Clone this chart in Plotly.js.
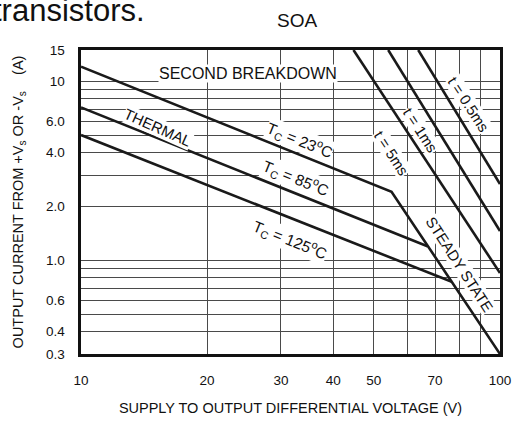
<!DOCTYPE html>
<html>
<head>
<meta charset="utf-8">
<script src="https://cdn.plot.ly/plotly-3.0.1.min.js"></script>
<style>html,body{margin:0;padding:0;background:#fff;}#chart{width:512px;height:422px;}</style>
</head>
<body>
<div id="chart"></div>
<script>
// Supply-to-output differential voltage (V) and output current (A)
const tc23V = [10, 55.1, 100];
const tc23I = [12.1, 2.42, 0.3];
const tc85V = [10, 67.1];
const tc85I = [7.17, 1.2];
const tc125V = [10, 76.7];
const tc125I = [5.02, 0.76];
const t5msV = [44.7, 100];
const t5msI = [15, 0.85];
const t1msV = [54.1, 100];
const t1msI = [15, 1.46];
const t05msV = [63.8, 100];
const t05msI = [15, 2.67];

const xTickVals = [10, 20, 30, 40, 50, 70, 100];
const xTickText = ['10', '20', '30', '40', '50', '70', '100'];
const xMinorVals = [60, 80, 90];
const yTickVals = [0.3, 0.4, 0.6, 1, 2, 4, 6, 10, 15];
const yTickText = ['0.3', '0.4', '0.6', '1.0', '2.0', '4.0', '6.0', '10', '15'];
const yMinorVals = [0.5, 0.7, 0.8, 0.9, 3, 5, 7, 8, 9];

const lineStyle = {color: '#1a1a1a', width: 2.6};
const series = [[tc23V, tc23I], [tc85V, tc85I], [tc125V, tc125I], [t5msV, t5msI], [t1msV, t1msI], [t05msV, t05msI]];
const traces = series.map(s => ({x: s[0], y: s[1], mode: 'lines', line: lineStyle, hoverinfo: 'skip', cliponaxis: true}));

const F = 'Arial, "Liberation Sans", sans-serif';
function lab(text, px, py, ang, size) {
  return {text: text, xref: 'paper', yref: 'paper', x: (px - 81) / 419, y: (354 - py) / 304,
    showarrow: false, textangle: ang, font: {family: F, size: size || 15, color: '#111'},
    bgcolor: '#fff', borderpad: 0, xanchor: 'center', yanchor: 'middle'};
}

const layout = {
  width: 512, height: 422,
  margin: {l: 81, r: 12, t: 50, b: 68},
  paper_bgcolor: '#fff', plot_bgcolor: '#fff',
  showlegend: false,
  font: {family: F, size: 13, color: '#111'},
  xaxis: {
    type: 'log', range: [1, 2],
    tickmode: 'array', tickvals: xTickVals, ticktext: xTickText,
    showgrid: true, gridcolor: '#4a4a4a', gridwidth: 1,
    minor: {tickmode: 'array', tickvals: xMinorVals, showgrid: true, gridcolor: '#4a4a4a', gridwidth: 1, ticks: ''},
    showline: true, mirror: true, linecolor: '#111', linewidth: 2.6,
    ticks: '', ticklabelstandoff: 12, zeroline: false,
    tickfont: {family: F, size: 13.5, color: '#111'},
    title: {text: 'SUPPLY TO OUTPUT DIFFERENTIAL VOLTAGE (V)', font: {family: F, size: 14.5, color: '#111'}, standoff: 16}
  },
  yaxis: {
    type: 'log', range: [Math.log10(0.3), Math.log10(15)],
    tickmode: 'array', tickvals: yTickVals, ticktext: yTickText,
    showgrid: true, gridcolor: '#4a4a4a', gridwidth: 1,
    minor: {tickmode: 'array', tickvals: yMinorVals, showgrid: true, gridcolor: '#4a4a4a', gridwidth: 1, ticks: ''},
    showline: true, mirror: true, linecolor: '#111', linewidth: 2.6,
    ticks: '', ticklabelstandoff: 11, zeroline: false,
    tickfont: {family: F, size: 13.5, color: '#111'},
    title: {text: 'OUTPUT CURRENT FROM +V<sub>s</sub> OR -V<sub>s</sub>&nbsp;&nbsp;&nbsp;&nbsp;(A)', font: {family: F, size: 14.5, color: '#111'}, standoff: 19}
  },
  annotations: [
    lab('SECOND BREAKDOWN', 248, 73, 0, 16),
    lab('THERMAL', 158, 127, 24, 15),
    lab('T<sub>C</sub> = 23<sup>o</sup>C', 299, 140, 22, 15.5),
    lab('T<sub>C</sub> = 85<sup>o</sup>C', 295, 178, 22, 15.5),
    lab('T<sub>C</sub> = 125<sup>o</sup>C', 290, 240, 22, 15.5),
    lab('t = 5ms', 392, 153, 57, 15),
    lab('t = 1ms', 421, 130, 57, 15),
    lab('t = 0.5ms', 469, 104, 57, 15),
    lab('STEADY STATE', 460, 264, 57, 15),
    Object.assign(lab('SOA', 297, 21, 0, 19), {bgcolor: 'rgba(0,0,0,0)'}),
    Object.assign(lab('transistors.', -8, 10, 0, 31), {xanchor: 'left', bgcolor: 'rgba(0,0,0,0)'})
  ]
};

Plotly.newPlot('chart', traces, layout, {staticPlot: true, displayModeBar: false});
</script>
</body>
</html>
